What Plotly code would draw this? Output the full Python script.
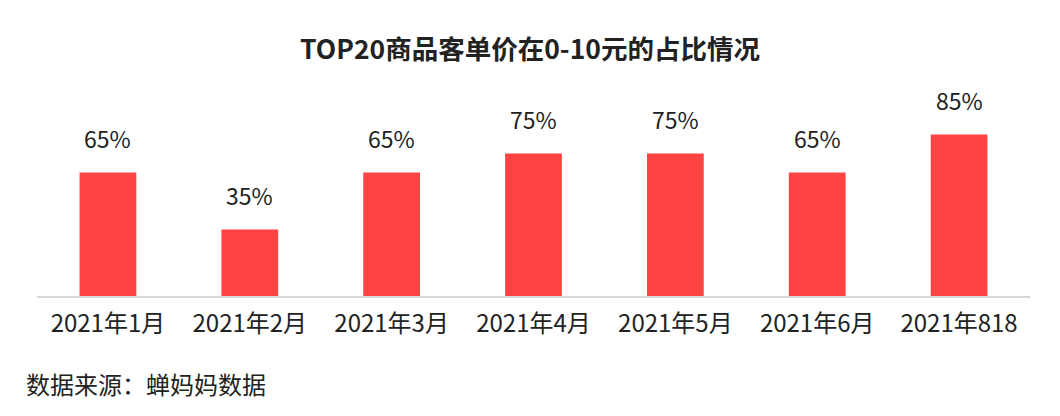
import plotly.graph_objects as go

categories = ["2021年1月", "2021年2月", "2021年3月", "2021年4月", "2021年5月", "2021年6月", "2021年818"]
values = [65, 35, 65, 75, 75, 65, 85]
labels = ["65%", "35%", "65%", "75%", "75%", "65%", "85%"]

FONT = "Noto Sans CJK SC"
BAR_COLOR = "#FF4242"
TEXT_COLOR = "#222222"

fig = go.Figure()
fig.add_trace(go.Bar(
    x=categories, y=values,
    marker=dict(color=BAR_COLOR, line=dict(width=0)),
    hoverinfo="skip",
))

for c, v, t in zip(categories, values, labels):
    fig.add_annotation(
        x=c, y=v, text=t, showarrow=False, yanchor="bottom", yshift=16,
        font=dict(family=FONT, size=23, color=TEXT_COLOR),
    )

fig.add_annotation(
    xref="paper", yref="paper", x=-0.013, y=-0.463, xanchor="left", yanchor="middle",
    text="数据来源：蝉妈妈数据", showarrow=False,
    font=dict(family=FONT, size=24, color=TEXT_COLOR),
)

fig.update_layout(
    width=1060, height=416,
    margin=dict(l=29, r=38, t=98, b=128),
    paper_bgcolor="white", plot_bgcolor="white",
    bargap=0.6,
    showlegend=False,
    title=dict(
        text="<b>TOP20商品客单价在0-10元的占比情况</b>",
        x=(530 - 8) / 1060, xanchor="center", xref="container",
        y=1 - 42 / 416, yanchor="middle", yref="container",
        font=dict(family=FONT, size=26.5, color=TEXT_COLOR),
    ),
    xaxis=dict(
        showline=True, linecolor="#D9D9D9", linewidth=2,
        showgrid=False, ticks="", ticklabelstandoff=5,
        tickfont=dict(family=FONT, size=24, color=TEXT_COLOR),
    ),
    yaxis=dict(range=[0, 100], visible=False, showgrid=False, zeroline=False),
)

fig.write_html("out.html")
